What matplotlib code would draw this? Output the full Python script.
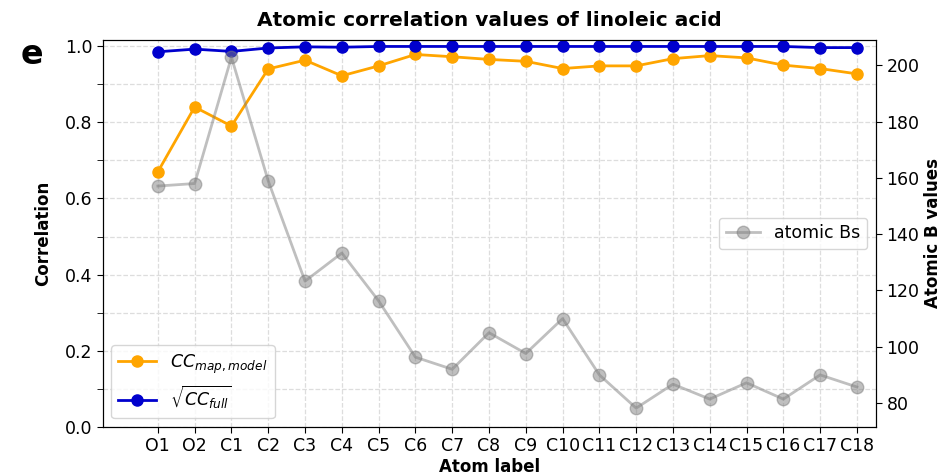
import matplotlib.pyplot as plt
from matplotlib.ticker import MultipleLocator

atoms = ["O1", "O2", "C1", "C2", "C3", "C4", "C5", "C6", "C7", "C8", "C9", "C10",
         "C11", "C12", "C13", "C14", "C15", "C16", "C17", "C18"]
cc_map_model = [0.670, 0.840, 0.790, 0.940, 0.963, 0.922, 0.948, 0.978, 0.972, 0.965,
                0.960, 0.941, 0.948, 0.948, 0.967, 0.975, 0.969, 0.950, 0.941, 0.927]
sqrt_cc_full = [0.985, 0.992, 0.986, 0.995, 0.998, 0.997, 0.999, 0.999, 0.999, 0.999,
                0.999, 0.999, 0.999, 0.999, 0.999, 0.999, 0.999, 0.999, 0.996, 0.996]
atomic_bs = [157.1, 158.0, 202.9, 158.9, 123.3, 133.3, 116.3, 96.3, 92.0, 105.0,
             97.6, 110.0, 90.0, 78.2, 86.7, 81.4, 87.2, 81.4, 90.0, 85.7]

fig = plt.figure(figsize=(9.42, 4.76), dpi=100)
ax = fig.add_axes([0.109, 0.103, 0.821, 0.813])
x = range(len(atoms))

ax.plot(x, cc_map_model, "-o", color="orange", lw=2, ms=8, label=r"$CC_{map,model}$")
ax.plot(x, sqrt_cc_full, "-o", color="mediumblue", lw=2, ms=8, label=r"$\sqrt{CC_{full}}$")
ax.set_ylim(0, 1.016)
ax.set_xlim(-1.5, len(atoms) - 0.48)
ax.set_xticks(list(x))
ax.set_xticklabels(atoms)
ax.yaxis.set_major_locator(MultipleLocator(0.2))
ax.yaxis.set_minor_locator(MultipleLocator(0.1))
ax.tick_params(axis="both", which="both", labelsize=12.5, length=4)
ax.grid(True, which="both", ls="--", color="#dddddd", lw=0.9)
ax.set_axisbelow(True)
ax.set_xlabel("Atom label", fontsize=12, fontweight="bold", labelpad=2)
ax.set_ylabel("Correlation", fontsize=12, fontweight="bold", labelpad=9)
ax.set_title("Atomic correlation values of linoleic acid", fontsize=14.5, fontweight="bold", pad=10)
ax.legend(loc="lower left", fontsize=12.5, handlelength=2.2)

ax2 = ax.twinx()
ax2.plot(x, atomic_bs, "-o", color="grey", alpha=0.5, lw=2, ms=9, label="atomic Bs")
ax2.set_ylim(71.5, 209)
ax2.yaxis.set_major_locator(MultipleLocator(20))
ax2.tick_params(axis="y", labelsize=12.5, length=4)
ax2.set_ylabel("Atomic B values", fontsize=12, fontweight="bold", labelpad=3)
ax2.legend(loc="center right", fontsize=12.5, bbox_to_anchor=(1.0, 0.5))

fig.text(0.022, 0.865, "e", fontsize=24, fontweight="bold")

plt.savefig("out.png", dpi=100)
plt.close()
